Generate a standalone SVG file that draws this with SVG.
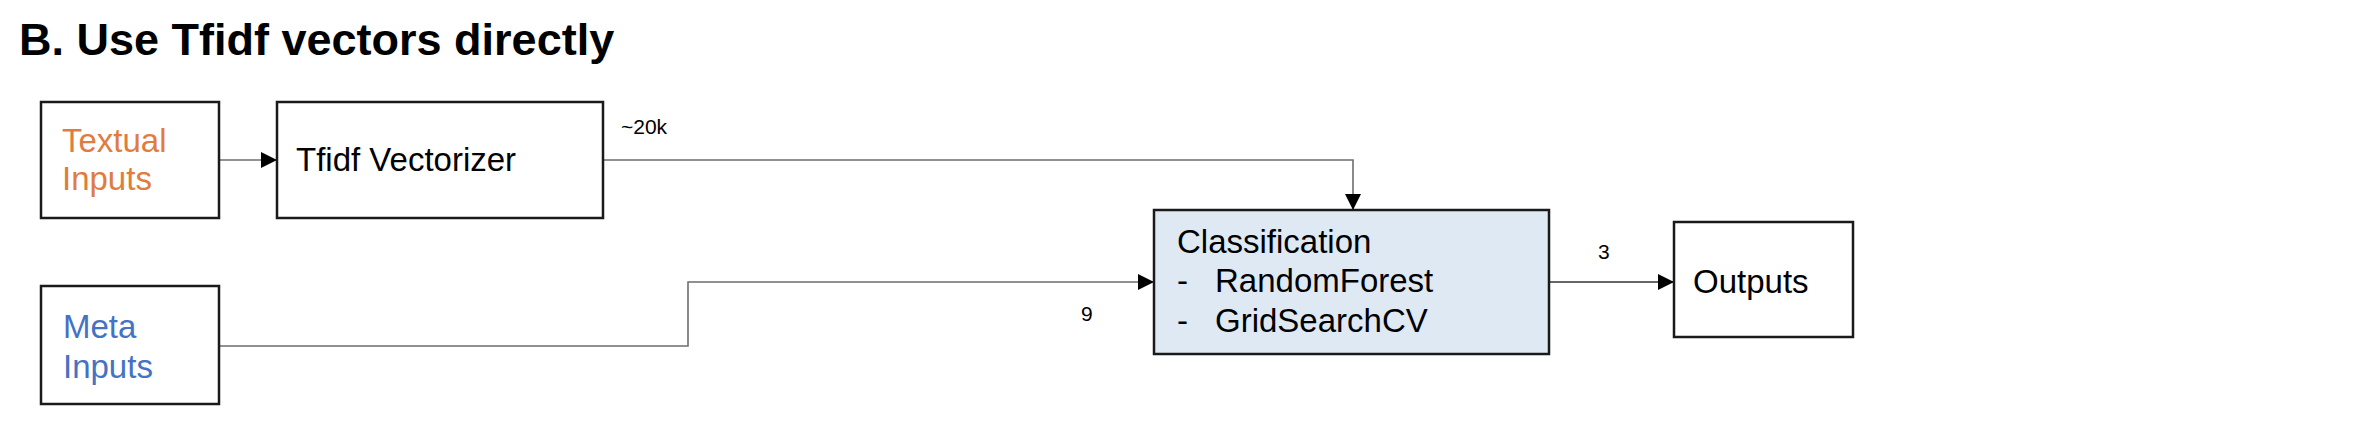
<svg xmlns="http://www.w3.org/2000/svg" width="2355" height="424" viewBox="0 0 2355 424">
<style>
text{font-family:"Liberation Sans",Arial,sans-serif}
.box{fill:#fff;stroke:#1a1a1a;stroke-width:2.5}
.cls{fill:#dfe9f4;stroke:#1a1a1a;stroke-width:2.5}
.lbl{font-size:33px;fill:#000}
.edge{fill:none;stroke:#6e6e6e;stroke-width:1.6}
.elbl{font-size:21px;fill:#000}
</style>
<defs>
<marker id="ah" markerWidth="16" markerHeight="16" refX="16" refY="8" orient="auto" markerUnits="userSpaceOnUse"><path d="M0,0 L16,8 L0,16 Z" fill="#000"/></marker>
</defs>
<text x="19" y="55" font-size="45" font-weight="bold" fill="#000">B. Use Tfidf vectors directly</text>
<g id="connectors">
<path class="edge" d="M219,160 H277" marker-end="url(#ah)"/>
<path class="edge" d="M603,160 H1353 V210" marker-end="url(#ah)"/>
<path class="edge" d="M219,346 H688 V282 H1154" marker-end="url(#ah)"/>
<path class="edge" d="M1549,282 H1674" marker-end="url(#ah)" style="stroke:#333"/>
<text class="elbl" x="621" y="134">~20k</text>
<text class="elbl" x="1081" y="321">9</text>
<text class="elbl" x="1598" y="259">3</text>
</g>
<g id="textual">
<rect class="box" x="41" y="102" width="178" height="116"/>
<text class="lbl" x="62" y="152" style="fill:#e07c3e">Textual</text>
<text class="lbl" x="62" y="190" style="fill:#e07c3e">Inputs</text>
</g>
<g id="tfidf">
<rect class="box" x="277" y="102" width="326" height="116"/>
<text class="lbl" x="296" y="171">Tfidf Vectorizer</text>
</g>
<g id="meta">
<rect class="box" x="41" y="286" width="178" height="118"/>
<text class="lbl" x="63" y="338" style="fill:#4472c4">Meta</text>
<text class="lbl" x="63" y="378" style="fill:#4472c4">Inputs</text>
</g>
<g id="classification">
<rect class="cls" x="1154" y="210" width="395" height="144"/>
<text class="lbl" x="1177" y="253">Classification</text>
<text class="lbl" x="1177" y="292">-</text>
<text class="lbl" x="1215" y="292">RandomForest</text>
<text class="lbl" x="1177" y="332">-</text>
<text class="lbl" x="1215" y="332">GridSearchCV</text>
</g>
<g id="outputs">
<rect class="box" x="1674" y="222" width="179" height="115"/>
<text class="lbl" x="1693" y="293">Outputs</text>
</g>
</svg>
